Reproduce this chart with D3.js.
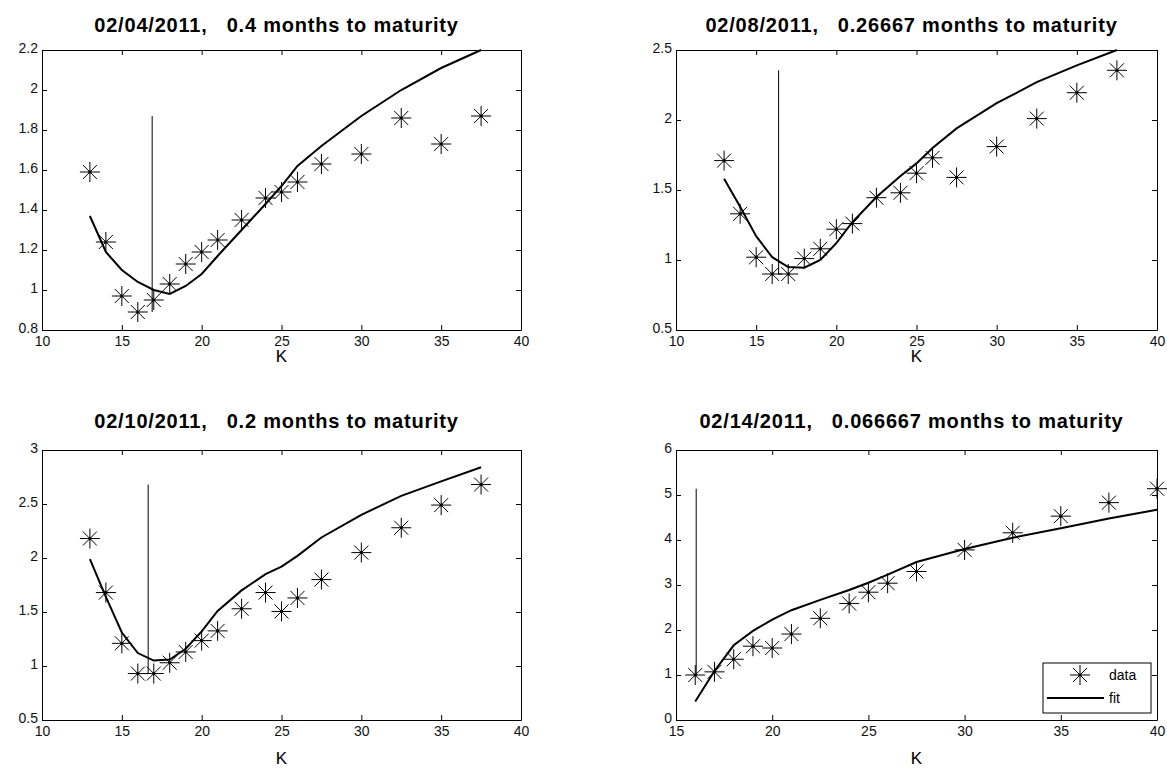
<!DOCTYPE html>
<html>
<head>
<meta charset="utf-8">
<script src="https://cdn.jsdelivr.net/npm/d3@7"></script>
<style>
  body { margin: 0; background: #fff; }
  text { font-family: Arial, "Liberation Sans", sans-serif; }
</style>
</head>
<body>
<div id="chart"></div>
<script>
// Strike prices (K) for each panel
const strikes = [13, 14, 15, 16, 17, 18, 19, 20, 21, 22.5, 24, 25, 26, 27.5, 30, 32.5, 35, 37.5];
const strikes0214 = [16, 17, 18, 19, 20, 21, 22.5, 24, 25, 26, 27.5, 30, 32.5, 35, 37.5, 40];

// Observed implied values ("data")
const data0204 = [1.59, 1.24, 0.97, 0.89, 0.95, 1.03, 1.13, 1.19, 1.25, 1.35, 1.46, 1.49, 1.54, 1.63, 1.68, 1.86, 1.73, 1.87];
const data0208 = [1.71, 1.33, 1.02, 0.90, 0.90, 1.01, 1.08, 1.22, 1.26, 1.445, 1.48, 1.62, 1.73, 1.59, 1.81, 2.01, 2.195, 2.355];
const data0210 = [2.18, 1.68, 1.21, 0.93, 0.93, 1.03, 1.13, 1.235, 1.325, 1.53, 1.68, 1.505, 1.63, 1.80, 2.05, 2.28, 2.49, 2.68];
const data0214 = [1.00, 1.07, 1.35, 1.64, 1.60, 1.91, 2.26, 2.59, 2.84, 3.04, 3.30, 3.78, 4.16, 4.53, 4.83, 5.14];

// Model values ("fit")
const fit0204 = [1.37, 1.19, 1.10, 1.04, 1.00, 0.98, 1.02, 1.08, 1.17, 1.30, 1.43, 1.52, 1.62, 1.72, 1.87, 2.00, 2.11, 2.20];
const fit0208 = [1.58, 1.38, 1.17, 1.02, 0.95, 0.945, 1.00, 1.12, 1.27, 1.45, 1.60, 1.69, 1.80, 1.94, 2.12, 2.27, 2.39, 2.50];
const fit0210 = [1.99, 1.64, 1.31, 1.12, 1.05, 1.06, 1.16, 1.32, 1.51, 1.70, 1.85, 1.92, 2.02, 2.19, 2.40, 2.575, 2.71, 2.84];
const fit0214 = [0.41, 1.09, 1.66, 1.98, 2.23, 2.44, 2.67, 2.89, 3.05, 3.23, 3.51, 3.80, 4.05, 4.26, 4.48, 4.67];

// Spot price marker for each date
const spots = [16.9, 16.4, 16.65, 16.05];

const titles = [
  "02/04/2011,   0.4 months to maturity",
  "02/08/2011,   0.26667 months to maturity",
  "02/10/2011,   0.2 months to maturity",
  "02/14/2011,   0.066667 months to maturity"
];

const xTicks = [10, 15, 20, 25, 30, 35, 40];
const xTicks0214 = [15, 20, 25, 30, 35, 40];
const yTicks0204 = [0.8, 1, 1.2, 1.4, 1.6, 1.8, 2, 2.2];
const yTicks0208 = [0.5, 1, 1.5, 2, 2.5];
const yTicks0210 = [0.5, 1, 1.5, 2, 2.5, 3];
const yTicks0214 = [0, 1, 2, 3, 4, 5, 6];

const legendLabels = ["data", "fit"];

const width = 1167, height = 771;

const svg = d3.select("#chart")
  .append("svg")
  .attr("width", width)
  .attr("height", height);

// panel boxes (pixels)
const panels = [
  { k: strikes, data: data0204, fit: fit0204, spot: spots[0], title: titles[0],
    xd: [10, 40], yd: [0.8, 2.2], xt: xTicks, yt: yTicks0204,
    x0: 42, x1: 521, y0: 50, y1: 330, ty: 18, ky: 32 },
  { k: strikes, data: data0208, fit: fit0208, spot: spots[1], title: titles[1],
    xd: [10, 40], yd: [0.5, 2.5], xt: xTicks, yt: yTicks0208,
    x0: 676, x1: 1157, y0: 50, y1: 330, ty: 18, ky: 32 },
  { k: strikes, data: data0210, fit: fit0210, spot: spots[2], title: titles[2],
    xd: [10, 40], yd: [0.5, 3], xt: xTicks, yt: yTicks0210,
    x0: 42, x1: 521, y0: 450, y1: 720, ty: 22, ky: 44 },
  { k: strikes0214, data: data0214, fit: fit0214, spot: spots[3], title: titles[3],
    xd: [15, 40], yd: [0, 6], xt: xTicks0214, yt: yTicks0214,
    x0: 676, x1: 1157, y0: 450, y1: 720, ty: 22, ky: 44, legend: true }
];

// asterisk marker path, MATLAB style
function star(cx, cy) {
  const r = 10, d = 7;
  return `M${cx - r},${cy}H${cx + r}M${cx},${cy - r}V${cy + r}` +
         `M${cx - d},${cy - d}L${cx + d},${cy + d}M${cx - d},${cy + d}L${cx + d},${cy - d}`;
}

function drawStar(g, cx, cy) {
  g.append("path")
    .attr("d", star(cx, cy))
    .attr("stroke", "#000")
    .attr("stroke-width", 1)
    .attr("fill", "none");
  g.append("circle")
    .attr("cx", cx).attr("cy", cy).attr("r", 1.6)
    .attr("fill", "#000");
}

panels.forEach(function(p) {
  const x = d3.scaleLinear().domain(p.xd).range([p.x0, p.x1]);
  const y = d3.scaleLinear().domain(p.yd).range([p.y1, p.y0]);
  const g = svg.append("g");

  // axes, ticks pointing inside like MATLAB
  const fmt = d3.format("~g");
  const styleAxis = sel => {
    sel.selectAll("path.domain").attr("stroke", "#000");
    sel.selectAll(".tick line").attr("stroke", "#000");
    sel.selectAll(".tick text").attr("fill", "#111").style("font-size", "14px")
      .style("font-family", "Arial, 'Liberation Sans', sans-serif");
  };

  g.append("g")
    .attr("transform", `translate(0,${p.y1})`)
    .call(d3.axisBottom(x).tickValues(p.xt).tickFormat(fmt).tickSizeInner(-5).tickSizeOuter(0).tickPadding(6))
    .call(styleAxis);
  g.append("g")
    .attr("transform", `translate(0,${p.y0})`)
    .call(d3.axisTop(x).tickValues(p.xt).tickFormat("").tickSizeInner(-5).tickSizeOuter(0))
    .call(styleAxis);
  g.append("g")
    .attr("transform", `translate(${p.x0},0)`)
    .call(d3.axisLeft(y).tickValues(p.yt).tickFormat(fmt).tickSizeInner(-5).tickSizeOuter(0).tickPadding(4))
    .call(styleAxis)
    .call(sel => sel.selectAll(".tick text").attr("dy", "0.2em"));
  g.append("g")
    .attr("transform", `translate(${p.x1},0)`)
    .call(d3.axisRight(y).tickValues(p.yt).tickFormat("").tickSizeInner(-5).tickSizeOuter(0))
    .call(styleAxis);

  // vertical line at spot, from min to max of data
  g.append("line")
    .attr("x1", x(p.spot)).attr("x2", x(p.spot))
    .attr("y1", y(d3.min(p.data))).attr("y2", y(d3.max(p.data)))
    .attr("stroke", "#000").attr("stroke-width", 1);

  // fit curve
  const line = d3.line()
    .x((d, i) => x(p.k[i]))
    .y(d => y(d));
  g.append("path")
    .datum(p.fit)
    .attr("d", line)
    .attr("fill", "none")
    .attr("stroke", "#000")
    .attr("stroke-width", 2);

  // data points
  p.data.forEach((v, i) => drawStar(g, x(p.k[i]), y(v)));

  // title
  g.append("text")
    .attr("x", (p.x0 + p.x1) / 2 - 5)
    .attr("y", p.y0 - p.ty)
    .attr("text-anchor", "middle")
    .style("font-size", "20px")
    .style("font-weight", "bold")
    .style("letter-spacing", "0.8px")
    .style("white-space", "pre")
    .text(p.title);

  // x label
  g.append("text")
    .attr("x", (p.x0 + p.x1) / 2)
    .attr("y", p.y1 + p.ky)
    .attr("text-anchor", "middle")
    .style("font-size", "17px")
    .text("K");

  if (p.legend) {
    const lg = g.append("g");
    lg.append("rect")
      .attr("x", 1043).attr("y", 663).attr("width", 108).attr("height", 50)
      .attr("fill", "#fff").attr("stroke", "#000");
    drawStar(lg, 1080, 675);
    lg.append("line")
      .attr("x1", 1047).attr("x2", 1104).attr("y1", 698).attr("y2", 698)
      .attr("stroke", "#000").attr("stroke-width", 2);
    lg.selectAll("text.lab")
      .data(legendLabels)
      .enter()
      .append("text")
      .attr("class", "lab")
      .attr("x", 1109)
      .attr("y", (d, i) => 680 + i * 23)
      .style("font-size", "14px")
      .text(d => d);
  }
});
</script>
</body>
</html>
